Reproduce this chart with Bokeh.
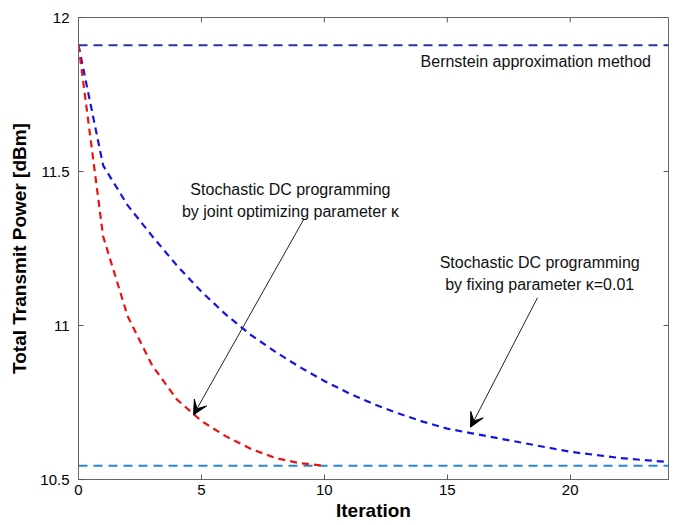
from bokeh.plotting import figure
from bokeh.models import (Range1d, LinearAxis, FixedTicker, PrintfTickFormatter,
                          Label, Arrow, VeeHead)
from bokeh.embed import file_html
from bokeh.resources import INLINE

# ---- data ----
iter_joint = [0, 1, 2, 3, 4, 5, 6, 7, 8, 9, 10]
power_joint = [11.91, 11.29, 11.03, 10.87, 10.76, 10.69, 10.64, 10.60, 10.57, 10.553, 10.545]

iter_fixed = list(range(0, 25))
power_fixed = [11.91, 11.52, 11.39, 11.29, 11.195, 11.11, 11.035, 10.97, 10.915, 10.865,
               10.82, 10.78, 10.745, 10.715, 10.688, 10.665, 10.65, 10.635, 10.62,
               10.605, 10.59, 10.58, 10.57, 10.563, 10.557]

bernstein_level = 11.91
lower_bound_level = 10.545

x_ticks = [0, 5, 10, 15, 20]
y_ticks = [10.5, 11, 11.5, 12]

FONT = "Liberation Sans"

p = figure(width=672, height=523, output_backend="svg", toolbar_location=None,
           x_range=Range1d(0, 24), y_range=Range1d(10.5, 12),
           min_border_left=78, min_border_right=4, min_border_top=17, min_border_bottom=40)
p.background_fill_color = "white"
p.border_fill_color = "white"
p.grid.visible = False
p.outline_line_color = "#666666"
p.outline_line_width = 1

# reference lines
p.line([0, 24], [bernstein_level, bernstein_level], line_color="#2634a8", line_width=2,
       line_dash="9 6")
p.line([0, 24], [lower_bound_level, lower_bound_level], line_color="#2a86d4", line_width=2,
       line_dash="9 6")

# curves
p.line(iter_fixed, power_fixed, line_color="#1414e6", line_width=2.2, line_dash="7 5")
p.line(iter_joint, power_joint, line_color="#ee1111", line_width=2.2, line_dash="7 5")

# axes styling
xa = p.xaxis[0]
ya = p.yaxis[0]
xa.ticker = FixedTicker(ticks=x_ticks)
ya.ticker = FixedTicker(ticks=y_ticks)
ya.formatter = PrintfTickFormatter(format="%g")
for ax in (xa, ya):
    ax.axis_line_color = "#666666"
    ax.major_tick_line_color = "#555555"
    ax.major_tick_in = 5
    ax.major_tick_out = 0
    ax.minor_tick_line_color = None
    ax.major_label_text_font = FONT
    ax.major_label_text_font_size = "15px"
    ax.major_label_text_color = "black"
    ax.axis_label_text_font = FONT
    ax.axis_label_text_font_style = "bold"
    ax.axis_label_text_font_size = "19px"
    ax.axis_label_text_color = "black"
xa.major_label_standoff = 5
ya.major_label_standoff = 9
xa.axis_label = "Iteration"
ya.axis_label = "Total Transmit Power [dBm]"
xa.axis_label_standoff = 2
ya.axis_label_standoff = 7

# inside ticks on the top and right edges of the box
n_x = len(x_ticks)
n_y = len(y_ticks)
p.segment(x0=x_ticks, y0=[12] * n_x, x1=x_ticks, y1=[12 - 0.016] * n_x,
          line_color="#555555", line_width=1)
p.segment(x0=[24] * n_y, y0=y_ticks, x1=[24 - 0.2] * n_y, y1=y_ticks,
          line_color="#555555", line_width=1)

# annotations
def lab(x, y, t):
    p.add_layout(Label(x=x, y=y, text=t, text_font=FONT, text_font_size="16px",
                       text_align="center", text_baseline="middle", text_color="#111111"))

lab(18.6, 11.858, "Bernstein approximation method")
lab(8.62, 11.44, "Stochastic DC programming")
lab(8.62, 11.37, "by joint optimizing parameter \u03ba")
lab(18.76, 11.204, "Stochastic DC programming")
lab(18.76, 11.133, "by fixing parameter \u03ba=0.01")

p.add_layout(Arrow(end=VeeHead(size=14, fill_color="black", line_color="black"),
                   x_start=9.15, y_start=11.343, x_end=4.68, y_end=10.71,
                   line_color="#222222", line_width=1))
p.add_layout(Arrow(end=VeeHead(size=14, fill_color="black", line_color="black"),
                   x_start=18.67, y_start=11.09, x_end=15.95, y_end=10.67,
                   line_color="#222222", line_width=1))

open("out.html", "w").write(file_html(p, INLINE))
